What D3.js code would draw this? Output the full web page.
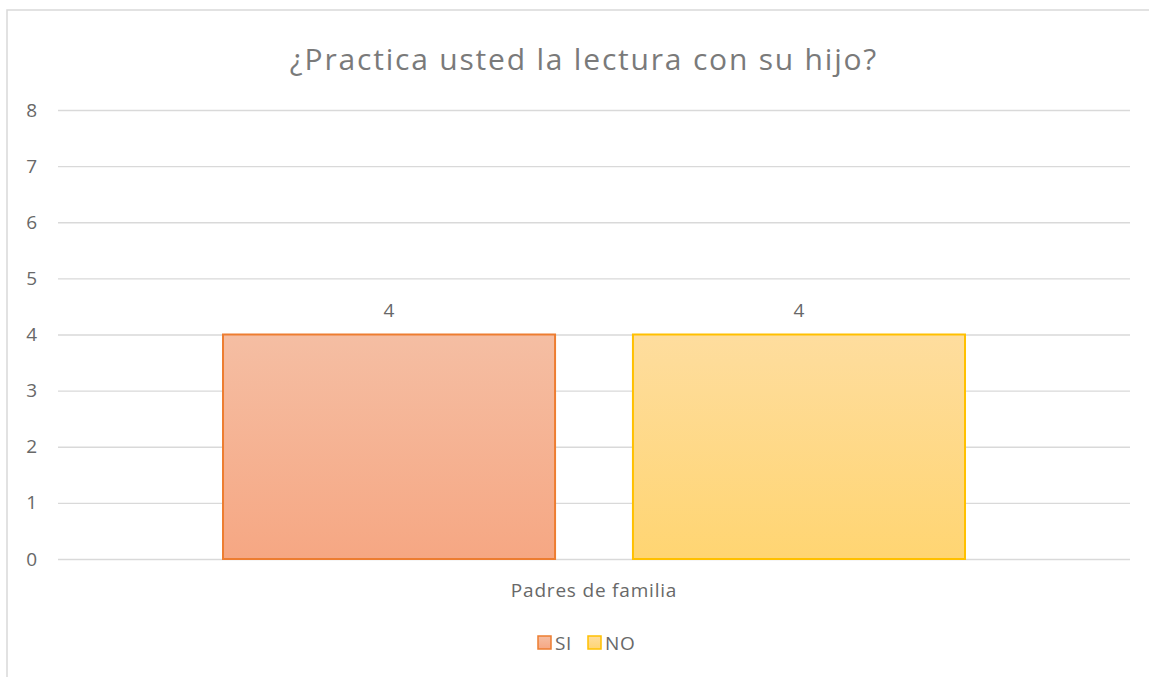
<!DOCTYPE html>
<html>
<head>
<meta charset="utf-8">
<script src="https://cdn.jsdelivr.net/npm/d3@7"></script>
<style>
body{margin:0;background:#fff;}
text{font-family:"Open Sans",sans-serif;}
</style>
</head>
<body>
<script>
var categories=["Padres de familia"];
var series=["SI","NO"];
var values={SI:[4],NO:[4]};
var yTicks=[0,1,2,3,4,5,6,7,8];
var title="¿Practica usted la lectura con su hijo?";

var colores={SI:{top:"#F5BEA3",bot:"#F6A783",line:"#ED7D31"},NO:{top:"#FEDD9E",bot:"#FFD572",line:"#FFC000"}};
var fuente="'Open Sans',sans-serif";

var svg=d3.select("body").append("svg")
.attr("width",1149)
.attr("height",677);

// marco del grafico
svg.append("path")
.attr("d","M7,677 L7,10 L1149,10")
.attr("fill","none")
.attr("stroke","#d9d9d9")
.attr("stroke-width",1.5);

var defs=svg.append("defs");
series.forEach(function(s){
	var g=defs.append("linearGradient").attr("id","grad"+s).attr("x1",0).attr("y1",0).attr("x2",0).attr("y2",1);
	g.append("stop").attr("offset","0%").attr("stop-color",colores[s].top);
	g.append("stop").attr("offset","100%").attr("stop-color",colores[s].bot);
});

var y=d3.scaleLinear().domain([0,8]).range([559,110]);
var x0=d3.scaleBand().domain(categories).range([58,1130]);
var x1=d3.scaleBand().domain(series).range([0,x0.bandwidth()]).paddingInner(0.19).paddingOuter(0.4025);

// lineas de division
svg.append("g").selectAll("line").data(yTicks).enter().append("line")
.attr("x1",58).attr("x2",1130)
.attr("y1",function(d){return y(d)+0.5;})
.attr("y2",function(d){return y(d)+0.5;})
.attr("stroke","#d9d9d9")
.attr("stroke-width",1.3);

var yAxis=svg.append("g").attr("transform","translate(37,0)")
.call(d3.axisLeft(y).tickValues(yTicks).tickSize(0).tickPadding(0));
yAxis.select(".domain").remove();
yAxis.selectAll("text").attr("font-size",19).attr("fill","#686868").attr("font-family",fuente);

var grupo=svg.selectAll(".cat").data(categories).enter().append("g")
.attr("transform",function(d){return "translate("+x0(d)+",0)";});

grupo.selectAll("rect").data(function(d,i){return series.map(function(s){return {s:s,v:values[s][i]};});})
.enter().append("rect")
.attr("x",function(d){return x1(d.s);})
.attr("y",function(d){return y(d.v);})
.attr("width",x1.bandwidth())
.attr("height",function(d){return y(0)-y(d.v);})
.attr("fill",function(d){return "url(#grad"+d.s+")";})
.attr("stroke",function(d){return colores[d.s].line;})
.attr("stroke-width",2);

grupo.selectAll(".lbl").data(function(d,i){return series.map(function(s){return {s:s,v:values[s][i]};});})
.enter().append("text")
.attr("x",function(d){return x1(d.s)+x1.bandwidth()/2;})
.attr("y",function(d){return y(d.v)-18;})
.attr("text-anchor","middle")
.attr("font-size",19)
.attr("fill","#686868")
.text(function(d){return d.v;});

var xAxis=svg.append("g").attr("transform","translate(0,"+(y(0)+38)+")")
.call(d3.axisBottom(x0).tickSize(0).tickPadding(0));
xAxis.select(".domain").remove();
xAxis.selectAll("text").attr("font-size",19).attr("fill","#686868").attr("font-family",fuente).attr("dy",0).attr("letter-spacing",0.8);

svg.append("text")
.attr("x",584).attr("y",70)
.attr("text-anchor","middle")
.attr("font-size",30)
.attr("letter-spacing",1.8)
.attr("fill","#7a7a7a")
.text(title);

// leyenda
var ley=svg.append("g");
var posX=[538,588];
series.forEach(function(s,i){
	ley.append("rect").attr("x",posX[i]).attr("y",636).attr("width",13).attr("height",13)
	.attr("fill","url(#grad"+s+")").attr("stroke",colores[s].line).attr("stroke-width",1.5);
	ley.append("text").attr("x",posX[i]+17).attr("y",650).attr("font-size",19).attr("letter-spacing",0.6).attr("fill","#686868").text(s);
});
</script>
</body>
</html>
